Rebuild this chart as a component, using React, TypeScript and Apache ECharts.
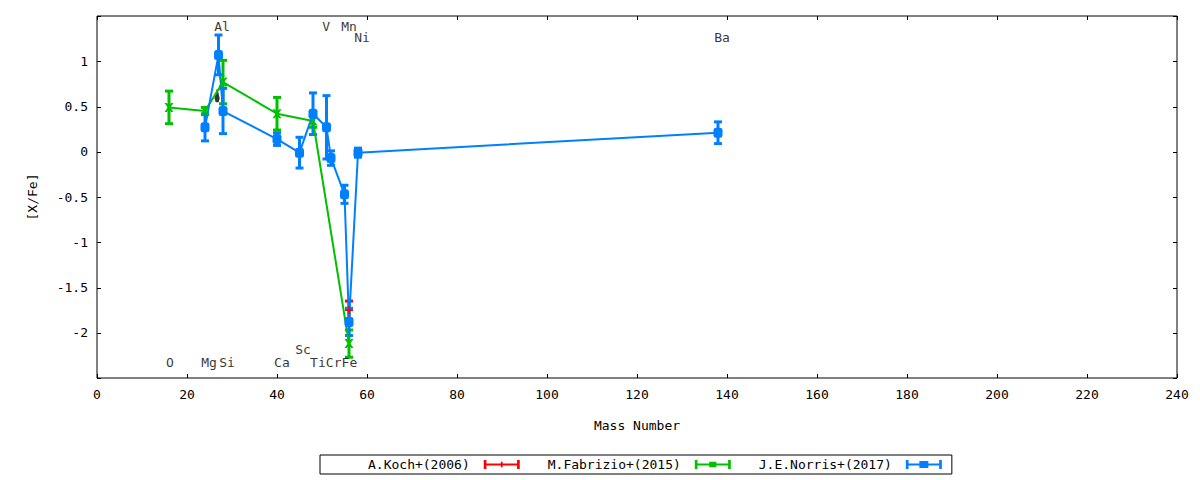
import React, { useEffect, useRef } from "react";
import * as echarts from "echarts";

// ---- data ----
const kochMass = [56];
const kochVal = [-1.75];
const kochErr = [0.1];

const fabMass = [16, 24, 28, 40, 48, 56];
const fabVal = [0.49, 0.45, 0.77, 0.42, 0.34, -2.12];
const fabErr = [0.18, 0.04, 0.24, 0.18, 0.07, 0.15];

const norMass = [24, 27, 28, 40, 45, 48, 51, 52, 55, 56, 58, 138];
const norVal = [0.27, 1.07, 0.45, 0.14, -0.01, 0.42, 0.27, -0.07, -0.47, -1.88, -0.01, 0.21];
const norErr = [0.15, 0.22, 0.25, 0.07, 0.17, 0.23, 0.35, 0.08, 0.1, 0.15, 0.05, 0.12];

const markMass = [26.7];
const markVal = [0.62];

const elemNames = ["O", "Mg", "Si", "Ca", "Sc", "Ti", "Cr", "Fe", "Al", "V", "Mn", "Ni", "Ba"];
const elemLabelX = [16.2, 24.9, 28.9, 41.1, 45.8, 49.1, 52.6, 56.1, 27.8, 50.9, 56.0, 58.9, 138.9];
const elemLabelY = [-2.33, -2.33, -2.33, -2.33, -2.18, -2.33, -2.33, -2.33, 1.38, 1.38, 1.38, 1.26, 1.26];

const seriesNames = ["A.Koch+(2006)", "M.Fabrizio+(2015)", "J.E.Norris+(2017)"];
const xTicks = { min: 0, max: 240, interval: 20 };
const yTicks = { min: -2.5, max: 1.5, interval: 0.5 };
const xTickVals = [0, 20, 40, 60, 80, 100, 120, 140, 160, 180, 200, 220, 240];
const yTickVals = [-2.5, -2, -1.5, -1, -0.5, 0, 0.5, 1, 1.5];

const FONT = "DejaVu Sans Mono";
const RED = "#ff0000";
const GREEN = "#00c000";
const BLUE = "#0080ff";

const redIcon = "path://M0 0h3v10h-3z M3 4h34v2h-34z M37 0h3v10h-3z M19 2h2v6h-2z";
const greenIcon = "path://M0 0h3v10h-3z M3 4h34v2h-34z M37 0h3v10h-3z M16 2h8v6h-8z";
const blueIcon = "path://M0 0h3v10h-3z M3 4h34v2h-34z M37 0h3v10h-3z M15 1h10v8h-10z";

const plusSym = "path://M4 0h2v4h4v2h-4v4h-2v-4h-4v-2h4z";
const crossSym = "path://M0 0L2.5 0L5 3L7.5 0L10 0L6.5 5L10 10L7.5 10L5 7L2.5 10L0 10L3.5 5Z";
const dropSym = "path://M2 0L3 0L5 7L4 10L1 10L0 7Z";

const TICK = 4;

function errData(m: number[], v: number[], e: number[]) {
  return m.map((x, i) => [x, v[i], v[i] - e[i], v[i] + e[i]]);
}

function errSeries(name: string, color: string, data: number[][], cap: number) {
  return {
    type: "custom",
    name,
    silent: true,
    encode: { x: 0, y: [1, 2, 3] },
    data,
    renderItem: (params: any, api: any) => {
      const x = api.value(0);
      const lo = api.coord([x, api.value(2)]);
      const hi = api.coord([x, api.value(3)]);
      const st = { stroke: color, lineWidth: 3 };
      return {
        type: "group",
        children: [
          { type: "line", shape: { x1: lo[0], y1: lo[1], x2: hi[0], y2: hi[1] }, style: st },
          { type: "line", shape: { x1: lo[0] - cap, y1: lo[1], x2: lo[0] + cap, y2: lo[1] }, style: st },
          { type: "line", shape: { x1: hi[0] - cap, y1: hi[1], x2: hi[0] + cap, y2: hi[1] }, style: st },
        ],
      };
    },
  };
}

function lineSeries(name: string, color: string, m: number[], v: number[], symbol: string, size: any) {
  return {
    type: "line",
    name,
    data: m.map((x, i) => [x, v[i]]),
    symbol,
    symbolSize: size,
    showAllSymbol: true,
    lineStyle: { color, width: 2 },
    itemStyle: { color, borderWidth: 0 },
    emphasis: { disabled: true },
  };
}

// inward ticks on all four sides of the frame, placed through the axes
function tickSeries(vertical: boolean) {
  const data = vertical ? yTickVals.map((v) => [xTicks.min, v]) : xTickVals.map((v) => [v, yTicks.min]);
  return {
    type: "custom",
    name: vertical ? "yticks" : "xticks",
    silent: true,
    clip: false,
    z: 10,
    encode: { x: 0, y: 1 },
    data,
    renderItem: (params: any, api: any) => {
      const cs = params.coordSys;
      const p = api.coord([api.value(0), api.value(1)]);
      const st = { stroke: "#000", lineWidth: 1 };
      if (vertical) {
        const y = Math.round(p[1]) + 0.5;
        return {
          type: "group",
          children: [
            { type: "line", shape: { x1: cs.x, y1: y, x2: cs.x + TICK, y2: y }, style: st },
            { type: "line", shape: { x1: cs.x + cs.width - TICK, y1: y, x2: cs.x + cs.width, y2: y }, style: st },
          ],
        };
      }
      const x = Math.round(p[0]) + 0.5;
      return {
        type: "group",
        children: [
          { type: "line", shape: { x1: x, y1: cs.y + cs.height, x2: x, y2: cs.y + cs.height - TICK }, style: st },
          { type: "line", shape: { x1: x, y1: cs.y, x2: x, y2: cs.y + TICK }, style: st },
        ],
      };
    },
  };
}

export default function App() {
  const ref = useRef<HTMLDivElement>(null);
  useEffect(() => {
    document.body.style.margin = "0";
    const chart = echarts.init(ref.current!, null, { renderer: "svg" });
    const txt = { color: "#000", fontFamily: FONT, fontSize: 13 };
    const mkLine = () => ({ show: false, onZero: false });
    const option: any = {
      animation: false,
      textStyle: { fontFamily: FONT },
      grid: { left: 97, right: 23, top: 16, bottom: 102, show: true, borderColor: "#000", borderWidth: 1, containLabel: false },
      legend: {
        left: 320,
        top: 455,
        orient: "horizontal",
        align: "right",
        itemWidth: 42,
        itemHeight: 9,
        itemGap: 28,
        padding: [3, 10, 3, 48],
        borderColor: "#000",
        borderWidth: 1,
        borderRadius: 0,
        selectedMode: false,
        textStyle: { ...txt, padding: [0, 6, 0, 0] },
        itemStyle: { borderWidth: 0 },
        data: [
          { name: seriesNames[0], icon: redIcon },
          { name: seriesNames[1], icon: greenIcon },
          { name: seriesNames[2], icon: blueIcon },
        ],
      },
      xAxis: {
        type: "value",
        position: "bottom",
        ...xTicks,
        name: "Mass Number",
        nameLocation: "middle",
        nameGap: 41,
        nameTextStyle: txt,
        axisLine: mkLine(),
        axisTick: { show: false },
        axisLabel: { ...txt, margin: 10 },
        splitLine: { show: false },
      },
      yAxis: {
        type: "value",
        position: "left",
        ...yTicks,
        name: "[X/Fe]",
        nameLocation: "middle",
        nameGap: 58,
        nameRotate: 90,
        nameTextStyle: txt,
        axisLine: mkLine(),
        axisTick: { show: false },
        axisLabel: { ...txt, margin: 9, showMinLabel: false, showMaxLabel: false },
        splitLine: { show: false },
      },
      series: [
        tickSeries(false),
        tickSeries(true),
        lineSeries(seriesNames[0], RED, kochMass, kochVal, plusSym, 8),
        errSeries("koch-err", RED, errData(kochMass, kochVal, kochErr), 4),
        lineSeries(seriesNames[1], GREEN, fabMass, fabVal, crossSym, 9),
        errSeries("fab-err", GREEN, errData(fabMass, fabVal, fabErr), 4),
        lineSeries(seriesNames[2], BLUE, norMass, norVal, "roundRect", [9, 10]),
        errSeries("nor-err", BLUE, errData(norMass, norVal, norErr), 4),
        {
          type: "scatter",
          name: "mark",
          silent: true,
          data: markMass.map((x, i) => [x, markVal[i]]),
          symbol: dropSym,
          symbolSize: [5, 13],
          itemStyle: { color: "#000" },
        },
        {
          type: "scatter",
          name: "labels",
          silent: true,
          symbolSize: 0,
          z: 5,
          data: elemNames.map((n, i) => ({ name: n, value: [elemLabelX[i], elemLabelY[i]] })),
          label: {
            show: true,
            position: "inside",
            formatter: (p: any) => p.name,
            ...txt,
          },
        },
      ],
    };
    chart.setOption(option);
    return () => chart.dispose();
  }, []);
  return <div ref={ref} style={{ width: 1200, height: 480 }} />;
}
